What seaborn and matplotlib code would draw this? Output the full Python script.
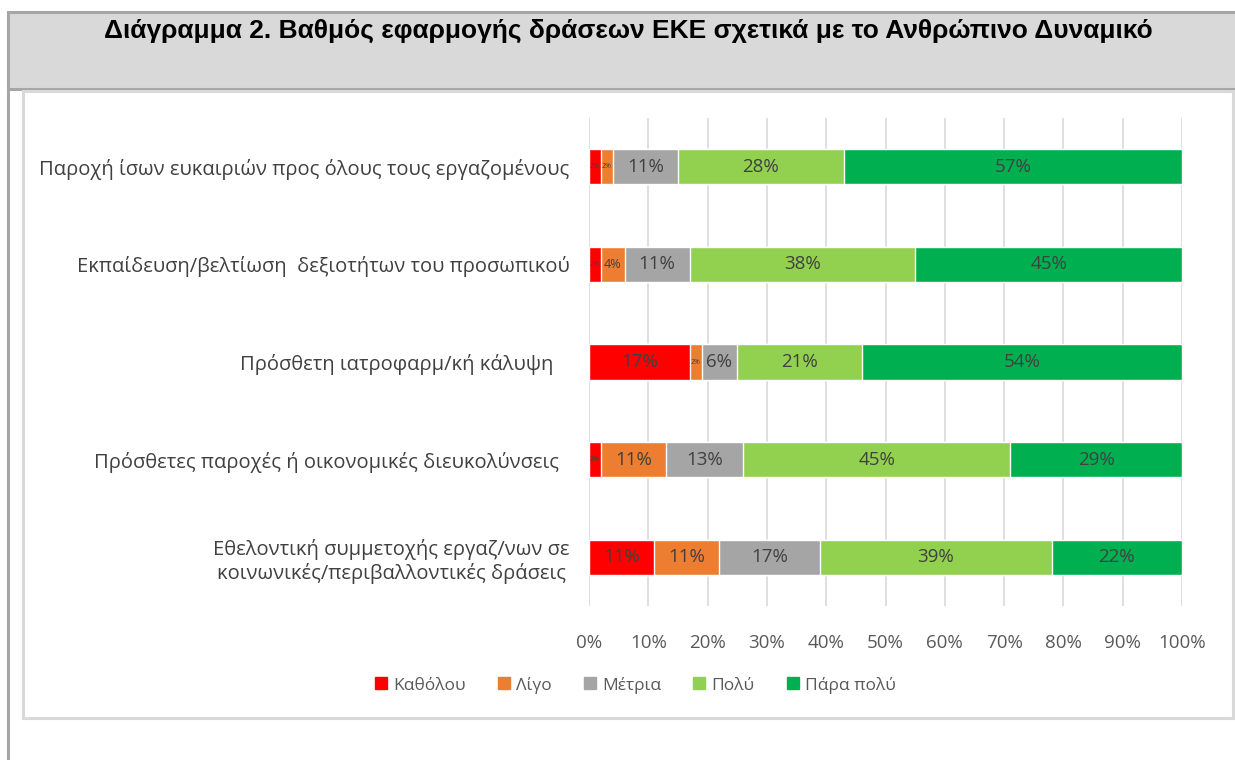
import numpy as np
import pandas as pd
import matplotlib
matplotlib.use('Agg')
import matplotlib.pyplot as plt
from matplotlib.patches import Rectangle
from matplotlib.lines import Line2D
import seaborn as sns

categories = [
    'Παροχή ίσων ευκαιριών προς όλους τους εργαζομένους',
    'Εκπαίδευση/βελτίωση  δεξιοτήτων του προσωπικού',
    'Πρόσθετη ιατροφαρμ/κή κάλυψη   ',
    'Πρόσθετες παροχές ή οικονομικές διευκολύνσεις  ',
    'Εθελοντική συμμετοχής εργαζ/νων σε\nκοινωνικές/περιβαλλοντικές δράσεις',
]
levels = ['Καθόλου', 'Λίγο', 'Μέτρια', 'Πολύ', 'Πάρα πολύ']
katholou = [2, 2, 17, 2, 11]
ligo = [2, 4, 2, 11, 11]
metria = [11, 11, 6, 13, 17]
poly = [28, 38, 21, 45, 39]
para_poly = [57, 45, 54, 29, 22]
colors = ['#ff0000', '#ed7d31', '#a5a5a5', '#92d050', '#00b050']
ticks = [0, 10, 20, 30, 40, 50, 60, 70, 80, 90, 100]

sns.set_theme(style='white')
plt.rcParams['font.family'] = ['Open Sans', 'DejaVu Sans']

df = pd.DataFrame({'cat': categories, 'Καθόλου': katholou, 'Λίγο': ligo,
                   'Μέτρια': metria, 'Πολύ': poly, 'Πάρα πολύ': para_poly})
cum = df[levels].cumsum(axis=1)

fig = plt.figure(figsize=(12.35, 7.6), dpi=100)
W, H = 1235, 760

# frame decorations
fig.add_artist(Rectangle((8 / W, 1 - 89 / H), 1.0, 77 / H, transform=fig.transFigure,
                         facecolor='#d9d9d9', edgecolor='#a6a6a6', lw=2.2))
fig.add_artist(Line2D([8 / W, 8 / W], [0, 1 - 89 / H], transform=fig.transFigure,
                      color='#a6a6a6', lw=2.2))
fig.add_artist(Rectangle((23 / W, 1 - 718 / H), 1210 / W, 627 / H, transform=fig.transFigure,
                         facecolor='none', edgecolor='#d9d9d9', lw=2.2))
fig.text(628 / W, 1 - 31 / H, 'Διάγραμμα 2. Βαθμός εφαρμογής δράσεων ΕΚΕ σχετικά με το Ανθρώπινο Δυναμικό',
         ha='center', va='center', fontsize=19, fontweight='bold', color='black',
         family=['Liberation Sans', 'DejaVu Sans'])

ax = fig.add_axes([589 / W, 1 - 606 / H, 593 / W, 488 / H])

# stacked bars: draw cumulative totals from the largest down
for lvl, col in zip(levels[::-1], colors[::-1]):
    sns.barplot(x=cum[lvl], y=df['cat'], color=col, orient='h', width=0.36,
                saturation=1, ax=ax, zorder=3)

for i in range(len(categories)):
    for lvl in levels:
        v = df.loc[i, lvl]
        c = cum.loc[i, lvl] - v / 2
        fs = 5 if v <= 2 else (9 if v <= 4 else 13.5)
        ax.text(c, i, f'{v}%', ha='center', va='center', fontsize=fs,
                color='#404040', zorder=4)

ax.set_xlim(0, 100)
ax.set_ylim(4.5, -0.5)
ax.set_xticks(ticks)
ax.set_xticklabels([f'{t}%' for t in ticks], fontsize=13.5, color='#595959')
ax.tick_params(axis='x', pad=20, length=0)
ax.tick_params(axis='y', pad=14, length=0, labelsize=14.5, labelcolor='#404040')
for lab in ax.get_yticklabels():
    lab.set_multialignment('center')
ax.set_xlabel('')
ax.set_ylabel('')
ax.grid(axis='x', color='#d9d9d9', lw=1.2, zorder=0)
for s in ax.spines.values():
    s.set_visible(False)

handles = [Line2D([], [], marker='s', ls='', color=c, markersize=8) for c in colors]
fig.legend(handles, levels, loc='center', bbox_to_anchor=(635 / W, 1 - 685 / H), ncol=5,
           frameon=False, fontsize=12.5, labelcolor='#595959', handletextpad=0.3,
           columnspacing=1.8, handlelength=0.8)

fig.savefig('out.png', dpi=100)
